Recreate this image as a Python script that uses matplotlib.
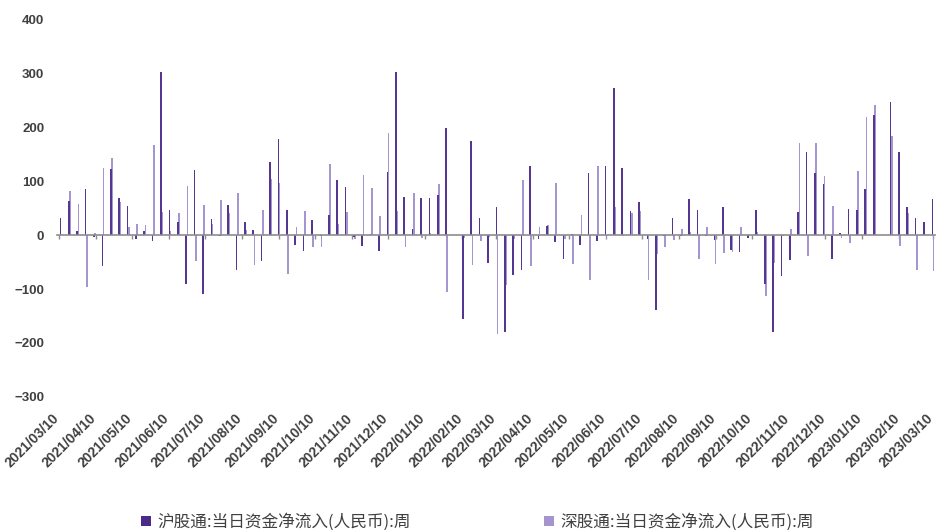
"""
Weekly northbound net inflow: Shanghai vs Shenzhen connect (bar chart).
"""

import pandas as pd
import matplotlib
matplotlib.use("Agg")
import matplotlib.pyplot as plt
import matplotlib.dates as mdates
import matplotlib.transforms as mtransforms
from matplotlib.patches import Patch

# weekly dates (Fridays) from 2021/03/12 to 2023/03/10
weeks = pd.date_range("2021-03-12", "2023-03-10", freq="7D")

# 沪股通 weekly net inflow (亿元)
sh_values = [
    32, 63, 7, 85, -4, -58, 122, 69, 54, -8, 7, -11, 302, 46, 25, -90, 120, -109,
    30, -2, 56, -65, 25, 9, -49, 135, 177, 46, -18, -30, 28, -2, 38, 102, 89, -3,
    -20, 1, -30, 116, 302, 70, 12, 69, 69, 75, 198, 0, -155, 174, 32, -52, 51, -180,
    -74, -64, 128, -8, 17, -13, -45, 2, -19, 115, -11, 128, 273, 125, 44, 62, -8, -138,
    -2, 32, -2, 66, 46, -2, -9, 52, -28, -31, -5, 46, -91, -180, -75, -47, 43, 154,
    114, 95, -44, 4, 49, 46, 85, 223, 0, 246, 154, 52, 32, 25, 67,
]

# 深股通 weekly net inflow (亿元)
sz_values = [
    0, 81, 57, -96, 3, 125, 142, 62, 14, 21, 18, 167, 43, 7, 41, 91, -48, 55,
    20, 64, 41, 77, 10, -55, 47, 104, 97, -72, 14, 44, -22, -22, 132, 20, 43, -7,
    112, 88, 36, 189, 44, -23, 78, -6, 3, 95, -106, 0, -5, -55, -11, -3, -183, -93,
    -8, 102, -57, 14, 18, 97, -8, -53, 38, -84, 127, -8, 52, -2, 41, 44, -83, -36,
    -22, -9, 12, 5, -44, 14, -53, -34, -31, 15, 0, 5, -113, -51, -2, 12, 170, -38,
    171, 110, 54, -5, -15, 118, 219, 240, 0, 183, -20, 40, -65, 0, -67,
]

sh_label = "沪股通:当日资金净流入(人民币):周"
sz_label = "深股通:当日资金净流入(人民币):周"

tick_dates = [pd.Timestamp(2021, 3, 10) + pd.DateOffset(months=i) for i in range(25)]
y_ticks = [-300, -200, -100, 0, 100, 200, 300, 400]

dark = "#553792"
light = "#a596d2"
text_gray = "#404040"

fig = plt.figure(figsize=(9.36, 5.30), dpi=100)
ax = fig.add_axes([0.0613, 0.251, 0.938, 0.713])

day = pd.Timedelta(days=1)
ax.bar(weeks + 0.55 * day, sz_values, width=1.4, color=light, linewidth=0, zorder=2)
ax.bar(weeks - 0.45 * day, sh_values, width=1.4, color=dark, linewidth=0, zorder=3)

ax.set_ylim(-300, 400)
ax.set_xlim(pd.Timestamp("2021-03-09"), pd.Timestamp("2023-03-12"))
ax.set_yticks(y_ticks)
ax.tick_params(axis="y", length=0, pad=9.5, labelsize=9.5, labelcolor=text_gray)
for lbl in ax.get_yticklabels():
    lbl.set_fontweight("bold")
    lbl.set_family("Liberation Sans")

# zero line acts as the x axis with small month ticks
for side in ["top", "right", "left"]:
    ax.spines[side].set_visible(False)
ax.spines["bottom"].set_position(("data", 0))
ax.spines["bottom"].set_color("#8c8c8c")
ax.spines["bottom"].set_linewidth(1.2)
ax.spines["bottom"].set_zorder(4)
ax.set_xticks(tick_dates)
ax.tick_params(axis="x", length=3, width=1, color="#8c8c8c", labelbottom=False)

# date labels sit under the plot
sec = ax.secondary_xaxis(0.0)
sec.set_xticks(tick_dates)
sec.xaxis.set_major_formatter(mdates.DateFormatter("%Y/%m/%d"))
sec.spines["bottom"].set_visible(False)
sec.tick_params(axis="x", length=0, pad=14, labelsize=10, labelcolor=text_gray)
nudge = mtransforms.ScaledTranslation(-2 / 100, 0, fig.dpi_scale_trans)
for lbl in sec.get_xticklabels():
    lbl.set_rotation(45)
    lbl.set_ha("right")
    lbl.set_va("center")
    lbl.set_rotation_mode("anchor")
    lbl.set_fontweight("bold")
    lbl.set_family("Liberation Sans")
    lbl.set_transform(lbl.get_transform() + nudge)

handles = [
    Patch(facecolor="#4b2a8a", edgecolor="none", label=sh_label),
    Patch(facecolor="#a694cf", edgecolor="none", label=sz_label),
]
fig.legend(
    handles=handles,
    loc="lower center",
    bbox_to_anchor=(0.51, -0.03),
    ncol=2,
    frameon=False,
    columnspacing=8.0,
    handlelength=0.6,
    handleheight=0.6,
    handletextpad=0.35,
    prop={"family": ["Noto Sans CJK SC", "DejaVu Sans"], "size": 12},
    labelcolor=text_gray,
)

fig.savefig("out.png", dpi=100)
